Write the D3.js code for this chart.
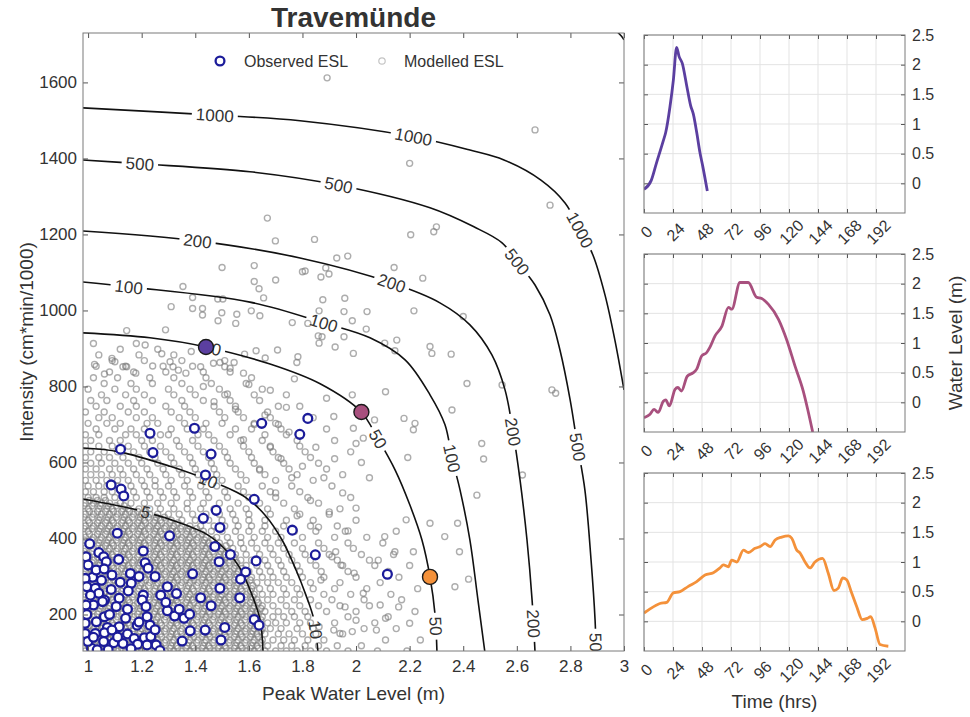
<!DOCTYPE html>
<html>
<head>
<meta charset="utf-8">
<script src="https://cdn.jsdelivr.net/npm/d3@7"></script>
<style>
  body { margin: 0; background: #fff; }
  svg text { font-family: "Liberation Sans", Arial, sans-serif; fill: #333; }
</style>
</head>
<body>
<svg id="chart" width="970" height="717"></svg>
<script>
// ---------- data ----------
const xTicks = [1, 1.2, 1.4, 1.6, 1.8, 2, 2.2, 2.4, 2.6, 2.8, 3];
const yTicks = [200, 400, 600, 800, 1000, 1200, 1400, 1600];
const timeTicks = [0, 24, 48, 72, 96, 120, 144, 168, 192];
const levelTicks = [0, 0.5, 1, 1.5, 2, 2.5];

// return period contours (peak water level m, intensity)
const contourLevels = [5, 10, 50, 100, 200, 500, 1000, 2000];
const contourLines = [
  [[0.981,504],[1.213,470],[1.362,436],[1.448,409],[1.522,364],[1.567,322],[1.612,251],[1.642,186],[1.653,100]],
  [[0.981,638],[1.116,628],[1.306,590],[1.448,554],[1.586,509],[1.660,462],[1.724,396],[1.776,317],[1.813,251],[1.843,186],[1.858,100]],
  [[0.981,941],[1.231,928],[1.440,904],[1.679,859],[1.866,807],[2.019,733],[2.082,662],[2.146,580],[2.201,488],[2.246,396],[2.276,299],[2.295,199],[2.302,100]],
  [[0.981,1075],[1.153,1062],[1.604,1022],[1.881,967],[2.052,928],[2.183,870],[2.276,778],[2.332,699],[2.358,612],[2.388,528],[2.425,396],[2.455,238],[2.481,100]],
  [[0.981,1209],[1.407,1183],[1.791,1138],[2.134,1072],[2.313,1020],[2.425,962],[2.507,883],[2.556,791],[2.586,680],[2.612,554],[2.638,396],[2.657,238],[2.668,100]],
  [[0.981,1396],[1.194,1386],[1.604,1365],[1.933,1330],[2.276,1270],[2.440,1220],[2.545,1178],[2.601,1128],[2.668,1067],[2.724,988],[2.761,896],[2.799,765],[2.825,651],[2.854,528],[2.877,344],[2.892,186],[2.896,100]],
  [[0.981,1533],[1.474,1514],[1.791,1499],[2.213,1457],[2.425,1422],[2.552,1396],[2.690,1343],[2.780,1283],[2.836,1212],[2.884,1146],[2.929,1041],[2.966,922],[3.0,791]],
  [[2.972,1735],[2.990,1722],[3.0,1712]]
];
const contourLabelAt = [
  [[1.213,470]],
  [[1.448,554],[1.852,160]],
  [[1.46,900],[2.082,662],[2.295,170]],
  [[1.153,1062],[1.881,967],[2.358,612]],
  [[1.407,1183],[2.134,1072],[2.586,680],[2.66,175]],
  [[1.194,1386],[1.933,1330],[2.601,1128],[2.825,640],[2.894,115]],
  [[1.474,1514],[2.213,1457],[2.836,1212]],
  []
];

// modelled ESL cloud, dense part as rows [intensity, [peak levels]]
const modelledRows = [
  [104,[0.99,1.02,1.05,1.08,1.11,1.14,1.17,1.20,1.23,1.26,1.29,1.32,1.35,1.38,1.41,1.44,1.47,1.50,1.53,1.56,1.59,1.62,1.66,1.70,1.74,1.78,1.83,1.89,1.97,2.08,2.19]],
  [111,[1.005,1.035,1.065,1.095,1.125,1.155,1.185,1.215,1.245,1.275,1.305,1.335,1.365,1.395,1.425,1.455,1.485,1.515,1.545,1.575,1.605,1.635]],
  [118,[1.00,1.04,1.07,1.09,1.13,1.15,1.19,1.21,1.25,1.27,1.31,1.33,1.37,1.39,1.43,1.45,1.49,1.51,1.55,1.57,1.61,1.63,1.67,1.72,1.76,1.81,1.86,1.93,2.02]],
  [126,[0.985,1.015,1.045,1.075,1.105,1.135,1.165,1.195,1.225,1.255,1.285,1.315,1.345,1.375,1.405,1.435,1.465,1.495,1.525,1.555,1.585,1.615,1.645]],
  [133,[0.99,1.02,1.05,1.08,1.11,1.14,1.17,1.20,1.23,1.26,1.29,1.32,1.35,1.38,1.41,1.44,1.47,1.50,1.53,1.56,1.59,1.62,1.65,1.69,1.73,1.77,1.82,1.88,2.11,2.24]],
  [141,[1.005,1.035,1.065,1.095,1.125,1.155,1.185,1.215,1.245,1.275,1.305,1.335,1.365,1.395,1.425,1.455,1.485,1.515,1.545,1.575,1.605,1.635]],
  [149,[1.00,1.04,1.07,1.09,1.13,1.15,1.19,1.21,1.25,1.27,1.31,1.33,1.37,1.39,1.43,1.45,1.49,1.51,1.55,1.57,1.61,1.63,1.66,1.71,1.75,1.80,1.85,1.95]],
  [156,[0.985,1.015,1.045,1.075,1.105,1.135,1.165,1.195,1.225,1.255,1.285,1.315,1.345,1.375,1.405,1.435,1.465,1.495,1.525,1.555,1.585,1.615,1.645]],
  [163,[0.99,1.02,1.05,1.08,1.11,1.14,1.17,1.20,1.23,1.26,1.29,1.32,1.35,1.38,1.41,1.44,1.47,1.50,1.53,1.56,1.59,1.62,1.65,1.68,1.72,1.78,1.84,2.03,2.15]],
  [171,[1.005,1.035,1.065,1.095,1.125,1.155,1.185,1.215,1.245,1.275,1.305,1.335,1.365,1.395,1.425,1.455,1.485,1.515,1.545,1.575,1.605,1.635]],
  [178,[1.00,1.04,1.07,1.09,1.13,1.15,1.19,1.21,1.25,1.27,1.31,1.33,1.37,1.39,1.43,1.45,1.49,1.51,1.55,1.57,1.61,1.63,1.67,1.70,1.74,1.79,1.83,1.92,2.07]],
  [186,[0.985,1.015,1.045,1.075,1.105,1.135,1.165,1.195,1.225,1.255,1.285,1.315,1.345,1.375,1.405,1.435,1.465,1.495,1.525,1.555,1.585,1.615,1.645]],
  [194,[0.99,1.02,1.05,1.08,1.11,1.14,1.17,1.20,1.23,1.26,1.29,1.32,1.35,1.38,1.41,1.44,1.47,1.50,1.53,1.56,1.59,1.62,1.65,1.69,1.73,1.77,1.82,1.97,2.12]],
  [201,[1.005,1.035,1.065,1.095,1.125,1.155,1.185,1.215,1.245,1.275,1.305,1.335,1.365,1.395,1.425,1.455,1.485,1.515,1.545,1.575,1.605,1.635]],
  [208,[1.00,1.04,1.07,1.09,1.13,1.15,1.19,1.21,1.25,1.27,1.31,1.33,1.37,1.39,1.43,1.45,1.49,1.51,1.55,1.57,1.61,1.63,1.66,1.71,1.76,1.81,1.89,2.00,2.22]],
  [216,[0.985,1.015,1.045,1.075,1.105,1.135,1.165,1.195,1.225,1.255,1.285,1.315,1.345,1.375,1.405,1.435,1.465,1.495,1.525,1.555,1.585,1.615,1.645]],
  [223,[0.99,1.02,1.05,1.08,1.11,1.14,1.17,1.20,1.23,1.26,1.29,1.32,1.35,1.38,1.41,1.44,1.47,1.50,1.53,1.56,1.59,1.62,1.65,1.69,1.74,1.79,1.86,1.94,2.05]],
  [231,[1.005,1.035,1.065,1.095,1.125,1.155,1.185,1.215,1.245,1.275,1.305,1.335,1.365,1.395,1.425,1.455,1.485,1.515,1.545,1.575,1.605,1.635]],
  [239,[1.00,1.04,1.07,1.09,1.13,1.15,1.19,1.21,1.25,1.27,1.31,1.33,1.37,1.39,1.43,1.45,1.49,1.51,1.55,1.57,1.61,1.63,1.67,1.72,1.77,1.83,1.91,2.03,2.17]],
  [246,[0.985,1.015,1.045,1.075,1.105,1.135,1.165,1.195,1.225,1.255,1.285,1.315,1.345,1.375,1.405,1.435,1.465,1.495,1.525,1.555,1.585,1.615]],
  [253,[0.99,1.02,1.05,1.08,1.11,1.14,1.17,1.20,1.23,1.26,1.29,1.32,1.35,1.38,1.41,1.44,1.47,1.50,1.53,1.56,1.59,1.62,1.65,1.69,1.74,1.79,1.88,1.98,2.13]],
  [261,[1.005,1.035,1.065,1.095,1.125,1.155,1.185,1.215,1.245,1.275,1.305,1.335,1.365,1.395,1.425,1.455,1.485,1.515,1.545,1.575,1.605]],
  [268,[1.00,1.04,1.07,1.09,1.13,1.15,1.19,1.21,1.25,1.27,1.31,1.33,1.37,1.39,1.43,1.45,1.49,1.51,1.55,1.57,1.61,1.64,1.68,1.73,1.78,1.84,1.92,2.04,2.23]],
  [276,[0.985,1.015,1.045,1.075,1.105,1.135,1.165,1.195,1.225,1.255,1.285,1.315,1.345,1.375,1.405,1.435,1.465,1.495,1.525,1.555,1.585,1.615]],
  [284,[0.99,1.02,1.05,1.08,1.11,1.14,1.17,1.20,1.23,1.26,1.29,1.32,1.35,1.38,1.41,1.44,1.47,1.50,1.53,1.56,1.59,1.63,1.67,1.71,1.76,1.83,1.94,2.09]],
  [291,[1.005,1.035,1.065,1.095,1.125,1.155,1.185,1.215,1.245,1.275,1.305,1.335,1.365,1.395,1.425,1.455,1.485,1.515,1.545,1.575,1.605]],
  [298,[1.00,1.04,1.07,1.09,1.13,1.15,1.19,1.21,1.25,1.27,1.31,1.33,1.37,1.39,1.43,1.45,1.49,1.51,1.55,1.57,1.61,1.65,1.69,1.74,1.80,1.88,2.00,2.16]],
  [306,[0.985,1.015,1.045,1.075,1.105,1.135,1.165,1.195,1.225,1.255,1.285,1.315,1.345,1.375,1.405,1.435,1.465,1.495,1.525,1.555,1.585]],
  [313,[0.99,1.02,1.05,1.08,1.11,1.14,1.17,1.20,1.23,1.26,1.29,1.32,1.35,1.38,1.41,1.44,1.47,1.50,1.53,1.56,1.60,1.64,1.68,1.73,1.79,1.87,1.97,2.12]],
  [321,[1.005,1.035,1.065,1.095,1.125,1.155,1.185,1.215,1.245,1.275,1.305,1.335,1.365,1.395,1.425,1.455,1.485,1.515,1.545,1.575]],
  [329,[1.00,1.04,1.07,1.09,1.13,1.15,1.19,1.21,1.25,1.27,1.31,1.33,1.37,1.39,1.43,1.45,1.49,1.51,1.55,1.59,1.63,1.67,1.72,1.78,1.85,1.95,2.07,2.20]],
  [336,[0.985,1.015,1.045,1.075,1.105,1.135,1.165,1.195,1.225,1.255,1.285,1.315,1.345,1.375,1.405,1.435,1.465,1.495,1.525,1.555]],
  [343,[0.99,1.02,1.05,1.08,1.11,1.14,1.17,1.20,1.23,1.26,1.29,1.32,1.35,1.38,1.41,1.44,1.47,1.50,1.53,1.57,1.61,1.66,1.71,1.76,1.83,1.93,2.05]],
  [351,[1.005,1.035,1.065,1.095,1.125,1.155,1.185,1.215,1.245,1.275,1.305,1.335,1.365,1.395,1.425,1.455,1.485,1.515,1.545]],
  [358,[1.00,1.04,1.07,1.09,1.13,1.15,1.19,1.21,1.25,1.27,1.31,1.33,1.37,1.39,1.43,1.45,1.49,1.51,1.55,1.59,1.64,1.69,1.75,1.81,1.90,2.02,2.14]],
  [366,[0.985,1.015,1.045,1.075,1.105,1.135,1.165,1.195,1.225,1.255,1.285,1.315,1.345,1.375,1.405,1.435,1.465,1.495,1.525]],
  [374,[0.99,1.02,1.05,1.08,1.11,1.14,1.17,1.20,1.23,1.26,1.29,1.32,1.35,1.38,1.41,1.44,1.47,1.50,1.54,1.58,1.63,1.68,1.73,1.80,1.88,1.99]],
  [381,[1.005,1.035,1.065,1.095,1.125,1.155,1.185,1.215,1.245,1.275,1.305,1.335,1.365,1.395,1.425,1.455,1.485,1.515]],
  [388,[1.00,1.04,1.07,1.09,1.13,1.15,1.19,1.21,1.25,1.27,1.31,1.33,1.37,1.39,1.43,1.45,1.49,1.53,1.57,1.61,1.66,1.71,1.77,1.86,1.97,2.10]],
  [396,[0.985,1.015,1.045,1.075,1.105,1.135,1.165,1.195,1.225,1.255,1.285,1.315,1.345,1.375,1.405,1.435,1.465]],
  [403,[0.99,1.02,1.05,1.08,1.11,1.14,1.17,1.20,1.23,1.26,1.29,1.32,1.35,1.38,1.41,1.44,1.48,1.52,1.57,1.62,1.67,1.72,1.80,1.92,2.04]],
  [411,[1.005,1.035,1.065,1.095,1.125,1.155,1.185,1.215,1.245,1.275,1.305,1.335,1.365,1.395,1.425]],
  [419,[1.00,1.04,1.07,1.09,1.13,1.15,1.19,1.21,1.25,1.27,1.31,1.33,1.37,1.39,1.43,1.46,1.50,1.55,1.60,1.65,1.70,1.77,1.85,1.96,2.15]],
  [426,[0.985,1.015,1.045,1.075,1.105,1.135,1.165,1.195,1.225,1.255,1.285,1.315,1.345,1.375,1.405]],
  [433,[0.99,1.02,1.05,1.08,1.11,1.14,1.17,1.20,1.23,1.26,1.29,1.32,1.35,1.38,1.42,1.47,1.51,1.56,1.61,1.66,1.73,1.83,1.93]],
  [441,[1.005,1.035,1.065,1.095,1.125,1.155,1.185,1.215,1.245,1.275,1.305,1.335]],
  [448,[1.00,1.04,1.07,1.09,1.13,1.15,1.19,1.21,1.25,1.27,1.31,1.35,1.40,1.45,1.50,1.55,1.60,1.66,1.74,1.84,2.00]],
  [456,[0.985,1.015,1.045,1.075,1.105,1.135,1.165,1.195,1.225,1.255,1.285]],
  [464,[0.99,1.02,1.05,1.08,1.11,1.14,1.17,1.20,1.23,1.26,1.30,1.34,1.39,1.44,1.49,1.54,1.60,1.68,1.79,1.90]],
  [471,[1.005,1.035,1.065,1.095,1.125,1.155,1.185,1.215]],
  [478,[1.00,1.04,1.07,1.09,1.13,1.15,1.19,1.23,1.27,1.32,1.37,1.42,1.47,1.53,1.59,1.67,1.77,1.94]],
  [486,[0.985,1.015,1.045,1.075,1.105,1.135]],
  [493,[0.99,1.02,1.05,1.08,1.12,1.16,1.21,1.26,1.31,1.37,1.43,1.49,1.56,1.64,1.73,1.86]],
  [500,[1.005,1.035,1.065]],
  [508,[1.00,1.03,1.06,1.10,1.14,1.18,1.23,1.28,1.33,1.39,1.45,1.52,1.60,1.70,1.82,1.98]],
  [523,[0.99,1.02,1.06,1.09,1.13,1.17,1.22,1.27,1.32,1.38,1.44,1.51,1.58,1.68,1.79]],
  [538,[1.00,1.04,1.07,1.11,1.16,1.21,1.25,1.30,1.36,1.42,1.48,1.56,1.65,1.76,1.91]],
  [553,[0.99,1.03,1.07,1.11,1.15,1.20,1.25,1.31,1.37,1.43,1.50,1.59,1.70,1.84]],
  [568,[1.01,1.05,1.09,1.13,1.18,1.23,1.29,1.35,1.41,1.48,1.57,1.66,1.78,1.95]],
  [583,[0.99,1.03,1.08,1.12,1.17,1.22,1.28,1.34,1.40,1.47,1.55,1.64,1.75,1.89]],
  [598,[1.01,1.05,1.10,1.15,1.20,1.26,1.32,1.39,1.46,1.53,1.62,1.73,1.86]],
  [613,[0.99,1.04,1.08,1.13,1.19,1.25,1.31,1.38,1.45,1.52,1.61,1.71,1.83]],
  [628,[1.01,1.06,1.11,1.17,1.23,1.29,1.36,1.43,1.51,1.60,1.69,1.81,1.98]],
  [643,[0.99,1.04,1.09,1.15,1.21,1.27,1.34,1.41,1.49,1.58,1.68,1.79]],
  [658,[1.01,1.08,1.12,1.20,1.24,1.33,1.39,1.47,1.57,1.65,1.78,1.92]],
  [673,[0.99,1.04,1.14,1.18,1.27,1.30,1.41,1.45,1.53,1.66,1.74]],
  [688,[1.03,1.10,1.16,1.21,1.31,1.37,1.43,1.55,1.61,1.72,1.89]],
  [703,[1.00,1.07,1.12,1.22,1.26,1.36,1.44,1.50,1.62,1.70]],
  [718,[1.04,1.09,1.18,1.24,1.34,1.40,1.51,1.58,1.68,1.84]],
  [733,[0.99,1.06,1.15,1.21,1.31,1.38,1.49,1.56,1.67]],
  [748,[1.03,1.12,1.18,1.29,1.36,1.47,1.55,1.71,1.79]],
  [763,[1.01,1.07,1.17,1.24,1.35,1.43,1.53,1.64]],
  [778,[1.05,1.14,1.21,1.32,1.40,1.51,1.62,1.74]],
  [793,[1.00,1.10,1.18,1.30,1.38,1.49,1.65]],
  [808,[1.06,1.16,1.24,1.35,1.46,1.59]],
  [823,[1.02,1.11,1.23,1.32,1.44,1.61]],
  [838,[1.08,1.17,1.29,1.43,1.53]],
  [853,[1.03,1.14,1.28,1.39]],
  [868,[1.09,1.21,1.35,1.51]],
  [883,[1.04,1.19,1.32]],
  [898,[1.12,1.26]],
  [913,[1.02,1.18]]
];
// modelled ESL, scattered outer points [peak level, intensity]
const modelledOuter = [
  [1.892,1612],[2.668,1475],[2.2,1387],[2.724,1277],[2.204,1199],[2.29,1207],[2.30,1220],[1.669,1243],[1.699,1183],[1.845,1187],
  [1.5,1113],[1.62,1118],[1.80,1102],[1.81,1104],[1.887,1112],[1.899,1096],[1.869,1088],[1.928,1138],[1.969,1143],[2.142,1113],
  [2.249,1085],[1.62,1076],[1.70,1080],[1.638,1057],[1.354,1063],[1.31,1010],[1.39,1034],[1.39,1005],[1.427,1005],[1.427,988],
  [1.499,994],[1.555,990],[1.485,973],[1.551,966],[1.609,999],[1.641,986],[1.655,1033],[1.484,1030],[1.503,1030],[1.862,999],
  [1.876,1028],[1.958,1032],[1.955,997],[1.986,973],[2.041,997],[2.038,951],[1.955,931],[1.922,904],[1.859,933],[1.99,887],
  [2.107,914],[2.152,922],[2.145,894],[2.216,999],[2.276,905],[2.283,887],[2.355,885],[2.40,984],[1.762,968],[1.82,966],
  [1.873,931],[1.862,914],[1.783,878],[1.779,863],[1.707,896],[1.627,894],[1.584,885],[1.661,875],[1.545,863],[1.53,848],
  [1.024,858],[1.061,833],[1.089,874],[1.10,865],[1.13,852],[1.144,852],[1.178,835],[1.213,909],[1.241,854],[1.275,886],
  [1.289,949],[1.306,865],[1.317,852],[1.337,843],[1.365,835],[1.385,892],[1.42,852],[1.468,861],[1.492,863],[1.51,852],
  [1.144,947],[2.414,808],[2.545,804],[2.731,791],[2.745,782],[2.358,738],[2.469,650],[2.476,609],[2.621,567],[2.451,514],
  [2.193,613],[2.214,686],[2.179,716],[2.22,703],[2.11,786],[2.069,712],[2.027,664],[2.0,650],[1.917,721],[1.89,769],
  [1.986,778],[2.276,440],[2.187,449],[2.331,405],[2.379,440],[2.386,365],[2.42,293],[2.369,273],[2.214,365],[2.145,365],
  [2.107,405],[2.083,343],[2.09,225],[2.159,220],[2.11,190],[2.076,159],[2.2,177],[2.027,256],[1.993,309],[1.944,330],
  [1.924,365],[1.91,352],[1.869,291],[1.959,220],[2.0,185],[1.986,155],[1.917,159],[1.862,168],[1.94,150],
  [1.75,680],[1.68,640],[1.72,610],[1.80,590],[1.62,700],[1.58,660],[1.66,725],[1.74,745],[1.55,740],[1.85,640],
  [1.92,610],[1.88,560],[1.95,520],[1.83,500],[1.78,460],[1.90,470],[2.0,480],[1.97,420],[2.05,560],[1.70,520],
  [1.76,560],[1.64,580],[1.86,430],[2.02,600],[1.99,690],[1.71,700],[1.52,780],[1.60,805],[1.68,790],[1.77,820],
  [1.47,760],[1.43,800],[1.58,835]
];

// observed ESL [peak level, intensity]
const observed = [
  [1.820,716],[1.648,703],[1.790,674],[1.397,690],[1.231,677],[1.121,635],[1.242,626],[1.459,622],[1.438,567],[1.086,541],
  [1.123,530],[1.133,512],[1.620,503],[1.478,474],[1.430,453],[1.492,429],[1.762,422],[1.109,414],[1.304,407],[1.006,386],
  [0.992,352],[1.040,363],[1.058,352],[1.068,339],[1.114,345],[1.206,367],[1.213,336],[1.224,322],[1.473,379],[1.531,358],
  [1.627,341],[1.848,357],[1.489,339],[1.390,307],[1.588,312],[1.569,293],[2.117,306],[1.158,308],[1.161,282],[1.089,304],
  [1.017,298],[0.989,295],[0.995,273],[1.027,269],[1.040,256],[1.086,266],[1.009,251],[1.061,238],[1.116,243],[1.206,251],
  [1.202,238],[1.216,221],[1.296,273],[1.271,251],[1.420,244],[1.459,223],[1.492,269],[1.566,244],[1.105,221],[1.147,214],
  [1.054,234],[1.020,225],[0.992,225],[0.989,177],[1.031,181],[1.061,194],[1.072,166],[1.116,168],[1.183,172],[1.220,194],
  [1.231,172],[1.296,210],[1.323,196],[1.340,214],[1.358,190],[1.379,201],[1.620,187],[1.638,172],[1.510,166],[1.381,157],
  [1.437,159],[1.351,130],[1.496,133],[0.989,150],[1.027,150],[1.061,152],[1.089,159],[1.147,149],[1.172,137],[1.210,139],
  [1.234,142],[1.058,129],[1.096,126],[1.130,124],[1.185,122],[1.220,120],[1.254,120],[1.268,105],[1.013,111],[1.034,107],
  [1.075,107],[0.999,129],[1.00,330],[1.03,317],[1.05,290],[1.12,285],[1.15,262],[1.19,300],[1.25,300],[1.08,200],
  [1.14,190],[1.19,180],[1.02,140],[1.11,141],[1.16,110],[1.25,160],[1.29,232],[1.33,255],[1.06,320],[0.995,200]
];

// the three highlighted events
const eventPeak = [1.44, 2.02, 2.276];
const eventIntensity = [904, 733, 299];
const eventColors = ['#5b3fa0', '#a8507e', '#f4913a'];

const event1Hrs = [0,6,10,16,18,21.5,24.3,27,29,31.7,35.3,38.6,40.8,43.6,46.3,48.6,52.4];
const event1Wl  = [-0.1,0.05,0.32,0.72,0.86,1.29,1.74,2.29,2.14,2.02,1.65,1.31,1.17,0.86,0.52,0.29,-0.13];

const event2Hrs = [0,5,8.3,11.8,16,18,21,25.7,28,31,35.8,40.8,43.6,47.7,51.9,54.6,58.8,64.4,69.9,72.7,79.4,86.3,93.2,97.4,103,111.3,118,125,131.8,135.5,139.6];
const event2Wl  = [-0.26,-0.2,-0.12,-0.17,0.02,0.04,-0.06,0.22,0.25,0.19,0.44,0.5,0.56,0.78,0.84,0.93,1.12,1.28,1.6,1.57,2.02,2.02,1.77,1.75,1.65,1.4,1.06,0.61,0.19,-0.12,-0.5];

const event3Hrs = [0,5,13.2,18.8,24.3,29.8,36.7,43.6,50.5,57.4,62.9,65.7,69.8,72.6,76.8,82.3,86.4,91.9,96.1,100.2,104.4,108.5,114,119.5,122.3,126.4,129.2,133.3,137.4,141.5,147.8,152.5,157.2,160.8,164.4,167.7,171.8,176,180.6,184.8,187.6,191.2,195.3,202.2];
const event3Wl  = [0.14,0.21,0.30,0.32,0.48,0.50,0.59,0.67,0.78,0.82,0.9,0.95,0.92,1.03,1.0,1.2,1.16,1.23,1.26,1.31,1.26,1.37,1.42,1.44,1.40,1.2,1.15,1.0,0.9,1.0,1.06,0.81,0.52,0.56,0.73,0.70,0.48,0.25,0.03,0.05,0.08,-0.11,-0.39,-0.42];

// ---------- chart ----------
const svg = d3.select('#chart');
const defs = svg.append('defs');

const M = {left: 83, right: 624, top: 33, bottom: 651};
const x = d3.scaleLinear().domain([0.981, 3]).range([M.left, M.right]);
const y = d3.scaleLinear().domain([104, 1730]).range([M.bottom, M.top]);

defs.append('clipPath').attr('id', 'clipMain')
  .append('rect').attr('x', M.left).attr('y', M.top)
  .attr('width', M.right - M.left).attr('height', M.bottom - M.top);

const plot = svg.append('g').attr('clip-path', 'url(#clipMain)');

// modelled points
const modelled = [];
modelledRows.forEach(r => r[1].forEach(v => modelled.push([v, r[0]])));
modelledOuter.forEach(p => modelled.push(p));

plot.append('g').selectAll('circle')
  .data(modelled)
  .join('circle')
  .attr('cx', d => x(d[0]))
  .attr('cy', d => y(d[1]))
  .attr('r', 3)
  .attr('fill', 'none')
  .attr('stroke', '#7a7a7a')
  .attr('stroke-opacity', 0.62)
  .attr('stroke-width', 1.4);

// contours, broken where the labels sit
const gapMask = defs.append('mask').attr('id', 'labelGaps')
  .attr('maskUnits', 'userSpaceOnUse')
  .attr('x', 0).attr('y', 0).attr('width', 970).attr('height', 717);
gapMask.append('rect').attr('width', 970).attr('height', 717).attr('fill', 'white');

const contourG = plot.append('g').attr('mask', 'url(#labelGaps)');
const labelG = plot.append('g');
const contourLine = d3.line()
  .x(d => x(d[0]))
  .y(d => y(d[1]))
  .curve(d3.curveCatmullRom.alpha(0.5));

contourLevels.forEach((lev, i) => {
  const path = contourG.append('path')
    .datum(contourLines[i])
    .attr('d', contourLine)
    .attr('fill', 'none')
    .attr('stroke', '#111')
    .attr('stroke-width', 1.6);
  const node = path.node();
  const L = node.getTotalLength();
  const samples = d3.range(0, L, 1).map(l => ({l: l, p: node.getPointAtLength(l)}));

  contourLabelAt[i].forEach(pt => {
    const tx = x(pt[0]), ty = y(pt[1]);
    const s = d3.least(samples, d => (d.p.x - tx) ** 2 + (d.p.y - ty) ** 2);
    const a = node.getPointAtLength(Math.max(0, s.l - 5));
    const b = node.getPointAtLength(Math.min(L, s.l + 5));
    let ang = Math.atan2(b.y - a.y, b.x - a.x) * 180 / Math.PI;
    if (ang > 90) ang -= 180;
    if (ang < -90) ang += 180;
    const txt = String(lev);
    const w = txt.length * 9.5 + 8;
    const tr = `translate(${s.p.x},${s.p.y}) rotate(${ang})`;
    gapMask.append('rect')
      .attr('x', -w / 2).attr('y', -8).attr('width', w).attr('height', 16)
      .attr('fill', 'black').attr('transform', tr);
    labelG.append('text')
      .attr('transform', tr)
      .attr('text-anchor', 'middle')
      .attr('dy', '0.36em')
      .attr('font-size', 17)
      .attr('fill', '#111')
      .text(txt);
  });
});

// observed points
plot.append('g').selectAll('circle')
  .data(observed)
  .join('circle')
  .attr('cx', d => x(d[0]))
  .attr('cy', d => y(d[1]))
  .attr('r', 4.4)
  .attr('fill', '#fff')
  .attr('stroke', '#1c1c9a')
  .attr('stroke-width', 2.3);

// highlighted events
svg.append('g').selectAll('circle')
  .data(eventPeak)
  .join('circle')
  .attr('cx', d => x(d))
  .attr('cy', (d, i) => y(eventIntensity[i]))
  .attr('r', 7.5)
  .attr('fill', (d, i) => eventColors[i])
  .attr('stroke', '#1a1a1a')
  .attr('stroke-width', 1.4);

// axes of main plot
const fmt = d3.format('~g');
function styleAxis(g) {
  g.select('.domain').remove();
  g.selectAll('line').attr('stroke', '#555');
  g.selectAll('text').attr('font-size', 17).attr('font-family', null).attr('fill', '#3a3a3a');
  g.attr('font-family', null);
}
svg.append('g').attr('transform', `translate(0,${M.bottom})`)
  .call(d3.axisBottom(x).tickValues(xTicks).tickFormat(fmt).tickSizeInner(-5).tickSizeOuter(0).tickPadding(9))
  .call(styleAxis);
svg.append('g').attr('transform', `translate(0,${M.top})`)
  .call(d3.axisTop(x).tickValues(xTicks).tickFormat('').tickSizeInner(-5).tickSizeOuter(0))
  .call(styleAxis);
svg.append('g').attr('transform', `translate(${M.left},0)`)
  .call(d3.axisLeft(y).tickValues(yTicks).tickFormat(fmt).tickSizeInner(-5).tickSizeOuter(0).tickPadding(6))
  .call(styleAxis);
svg.append('g').attr('transform', `translate(${M.right},0)`)
  .call(d3.axisRight(y).tickValues(yTicks).tickFormat('').tickSizeInner(-5).tickSizeOuter(0))
  .call(styleAxis);
svg.append('rect')
  .attr('x', M.left).attr('y', M.top)
  .attr('width', M.right - M.left).attr('height', M.bottom - M.top)
  .attr('fill', 'none').attr('stroke', '#7a7a7a').attr('stroke-width', 1);

svg.append('text')
  .attr('x', (M.left + M.right) / 2).attr('y', 27)
  .attr('text-anchor', 'middle')
  .attr('font-size', 28).attr('font-weight', 'bold')
  .attr('fill', '#000')
  .text('Travemünde');

svg.append('text')
  .attr('x', (M.left + M.right) / 2).attr('y', 700)
  .attr('text-anchor', 'middle').attr('font-size', 19)
  .text('Peak Water Level (m)');

svg.append('text')
  .attr('transform', `translate(33,${(M.top + M.bottom) / 2}) rotate(-90)`)
  .attr('text-anchor', 'middle').attr('font-size', 19)
  .text('Intensity (cm*min/1000)');

// legend
const legend = svg.append('g');
legend.append('circle').attr('cx', 220).attr('cy', 61).attr('r', 4.4)
  .attr('fill', '#fff').attr('stroke', '#1c1c9a').attr('stroke-width', 2.3);
legend.append('text').attr('x', 244).attr('y', 61).attr('dy', '0.35em')
  .attr('font-size', 16).text('Observed ESL');
legend.append('circle').attr('cx', 382).attr('cy', 61).attr('r', 3.2)
  .attr('fill', 'none').attr('stroke', '#c4c4c4').attr('stroke-width', 1.2);
legend.append('text').attr('x', 404).attr('y', 61).attr('dy', '0.35em')
  .attr('font-size', 16).text('Modelled ESL');

// ---------- hydrograph panels ----------
const P = {left: 644, right: 905, height: 178};
const panelTops = [35, 254, 473];
const eventSeries = [
  [event1Hrs, event1Wl],
  [event2Hrs, event2Wl],
  [event3Hrs, event3Wl]
];
const tx = d3.scaleLinear().domain([0, 216]).range([P.left, P.right]);

eventSeries.forEach((ser, i) => {
  const top = panelTops[i];
  const bot = top + P.height;
  const ty = d3.scaleLinear().domain([-0.5, 2.5]).range([bot, top]);
  const g = svg.append('g');

  defs.append('clipPath').attr('id', 'clipP' + i)
    .append('rect').attr('x', P.left).attr('y', top)
    .attr('width', P.right - P.left).attr('height', P.height);

  // grid
  g.append('g').selectAll('line').data(timeTicks).join('line')
    .attr('x1', d => tx(d)).attr('x2', d => tx(d))
    .attr('y1', top).attr('y2', bot)
    .attr('stroke', '#e3e3e3');
  g.append('g').selectAll('line').data(levelTicks).join('line')
    .attr('x1', P.left).attr('x2', P.right)
    .attr('y1', d => ty(d)).attr('y2', d => ty(d))
    .attr('stroke', '#e3e3e3');

  const pts = ser[0].map((h, k) => [h, ser[1][k]]);
  g.append('path')
    .datum(pts)
    .attr('clip-path', `url(#clipP${i})`)
    .attr('d', d3.line().x(d => tx(d[0])).y(d => ty(d[1])).curve(d3.curveMonotoneX))
    .attr('fill', 'none')
    .attr('stroke', eventColors[i])
    .attr('stroke-width', 2.8)
    .attr('stroke-linejoin', 'round');

  // axes
  g.append('g').attr('transform', `translate(${P.right},0)`)
    .call(d3.axisRight(ty).tickValues(levelTicks).tickFormat(fmt).tickSizeInner(-4).tickSizeOuter(0).tickPadding(7))
    .call(styleAxis)
    .call(a => a.selectAll('text').attr('font-size', 16));
  g.append('g').attr('transform', `translate(${P.left},0)`)
    .call(d3.axisLeft(ty).tickValues(levelTicks).tickFormat('').tickSizeInner(-4).tickSizeOuter(0))
    .call(styleAxis);
  g.append('g').attr('transform', `translate(0,${bot})`)
    .call(d3.axisBottom(tx).tickValues(timeTicks).tickFormat(fmt).tickSizeInner(-4).tickSizeOuter(0))
    .call(styleAxis)
    .call(a => a.selectAll('text')
      .attr('font-size', 16)
      .attr('y', 0).attr('dy', '0.35em')
      .attr('text-anchor', 'middle')
      .attr('transform', 'translate(2,19) rotate(-45)'));
  g.append('g').attr('transform', `translate(0,${top})`)
    .call(d3.axisTop(tx).tickValues(timeTicks).tickFormat('').tickSizeInner(-4).tickSizeOuter(0))
    .call(styleAxis);
  g.append('rect')
    .attr('x', P.left).attr('y', top)
    .attr('width', P.right - P.left).attr('height', P.height)
    .attr('fill', 'none').attr('stroke', '#7a7a7a');
});

svg.append('text')
  .attr('transform', `translate(962,${panelTops[1] + P.height / 2}) rotate(-90)`)
  .attr('text-anchor', 'middle').attr('font-size', 19)
  .text('Water Level (m)');

svg.append('text')
  .attr('x', (P.left + P.right) / 2).attr('y', 708)
  .attr('text-anchor', 'middle').attr('font-size', 19)
  .text('Time (hrs)');
</script>
</body>
</html>
